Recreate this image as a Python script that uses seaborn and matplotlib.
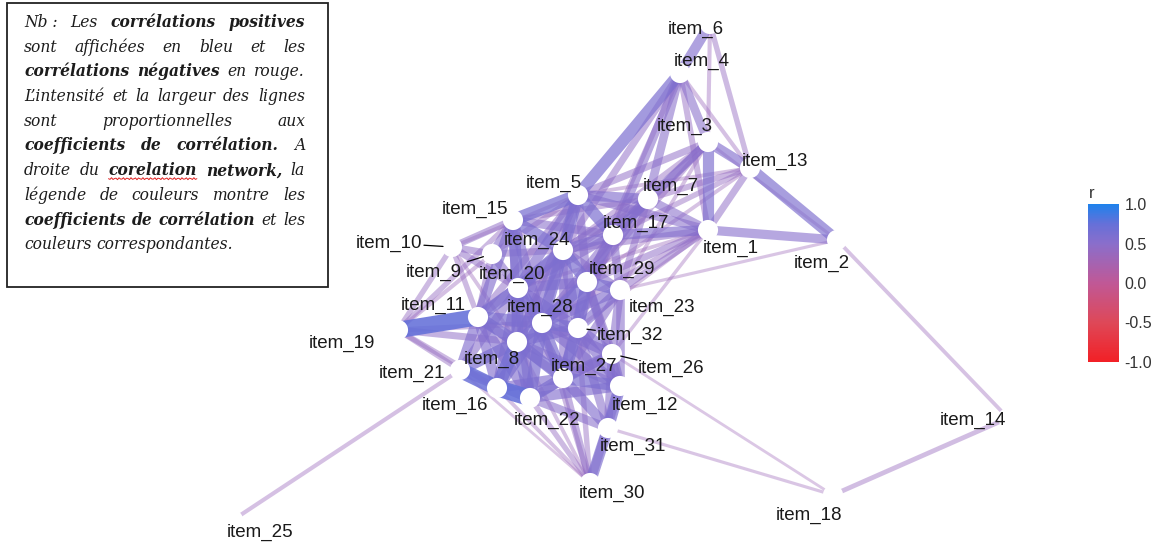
import numpy as np
import matplotlib
matplotlib.use("Agg")
import matplotlib.pyplot as plt
import seaborn as sns
from matplotlib.collections import LineCollection
from matplotlib.colors import LinearSegmentedColormap, Normalize
from matplotlib.cm import ScalarMappable
from matplotlib.patches import Rectangle

# node layout (multidimensional scaling coordinates, in image pixels)
items = ["item_%d" % i for i in range(1, 33)]
node_x = [708, 837, 708, 680, 578, 710, 648, 517, 492, 452, 478, 620, 750, 1008, 513, 497,
          613, 833, 398, 518, 460, 530, 620, 563, 233, 612, 563, 542, 587, 590, 608, 578]
node_y = [230, 240, 142, 73, 195, 24, 199, 342, 254, 247, 317, 386, 168, 418, 220, 388,
          235, 495, 330, 288, 370, 398, 290, 250, 520, 354, 378, 323, 282, 483, 428, 328]

# repelled label positions
label_x = [731, 822, 685, 702, 554, 696, 671, 492, 434, 389, 433, 645, 775, 973, 475, 455,
           636, 809, 342, 512, 412, 547, 662, 537, 260, 671, 584, 540, 622, 612, 633, 630]
label_y = [248, 263, 126, 61, 183, 29, 186, 359, 272, 243, 305, 405, 161, 420, 209, 405,
           223, 515, 343, 274, 373, 420, 307, 240, 532, 368, 366, 307, 269, 493, 446, 335]

# correlations shown (|r| >= 0.3)
edge_pairs = [
    (6, 4), (6, 3), (6, 13),
    (4, 3), (4, 5), (4, 7), (4, 17), (4, 1), (4, 13), (4, 24), (4, 29),
    (3, 13), (3, 1), (3, 7), (3, 17), (3, 5), (3, 24), (3, 29), (3, 23), (3, 2),
    (13, 2), (13, 1), (13, 7), (13, 17), (13, 5), (13, 29),
    (1, 2), (1, 7), (1, 17), (1, 5), (1, 24), (1, 29), (1, 23), (1, 28), (1, 32), (1, 26), (1, 20),
    (2, 23), (2, 14),
    (7, 5), (7, 17), (7, 24), (7, 29), (7, 23), (7, 15), (7, 20), (7, 28),
    (5, 15), (5, 24), (5, 17), (5, 20), (5, 29), (5, 28), (5, 9), (5, 10), (5, 11), (5, 8),
    (17, 24), (17, 29), (17, 23), (17, 15), (17, 20), (17, 28), (17, 32),
    (15, 24), (15, 20), (15, 9), (15, 10), (15, 11), (15, 28), (15, 8), (15, 19),
    (24, 20), (24, 29), (24, 28), (24, 32), (24, 23), (24, 8), (24, 11), (24, 27), (24, 9),
    (20, 28), (20, 11), (20, 8), (20, 9), (20, 10), (20, 29), (20, 32), (20, 27), (20, 21), (20, 16), (20, 22),
    (9, 10), (9, 11), (9, 19),
    (10, 11), (10, 19), (10, 8),
    (11, 19), (11, 28), (11, 8), (11, 21), (11, 16), (11, 22), (11, 27),
    (19, 21), (19, 8), (19, 16), (19, 28),
    (21, 16), (21, 8), (21, 25), (21, 22), (21, 30),
    (16, 22), (16, 8), (16, 27), (16, 28), (16, 30),
    (22, 27), (22, 8), (22, 28), (22, 12), (22, 31), (22, 30), (22, 26),
    (8, 28), (8, 27), (8, 32), (8, 12), (8, 30),
    (28, 29), (28, 32), (28, 27), (28, 23), (28, 26), (28, 12), (28, 30),
    (29, 23), (29, 32), (29, 27), (29, 26), (29, 12),
    (23, 32), (23, 26), (23, 12), (23, 27),
    (32, 27), (32, 26), (32, 12), (32, 31), (32, 30),
    (27, 26), (27, 12), (27, 31), (27, 30),
    (26, 12), (26, 31), (26, 18),
    (12, 31), (12, 30),
    (31, 30), (31, 18),
    (18, 14),
]
edge_r = [
    0.55, 0.36, 0.40,
    0.50, 0.60, 0.50, 0.50, 0.42, 0.36, 0.45, 0.40,
    0.55, 0.58, 0.50, 0.50, 0.45, 0.40, 0.40, 0.35, 0.33,
    0.58, 0.45, 0.42, 0.40, 0.35, 0.35,
    0.52, 0.50, 0.55, 0.50, 0.45, 0.45, 0.45, 0.40, 0.35, 0.34, 0.35,
    0.33, 0.35,
    0.55, 0.55, 0.50, 0.50, 0.45, 0.40, 0.40, 0.40,
    0.62, 0.60, 0.60, 0.55, 0.50, 0.50, 0.40, 0.35, 0.45, 0.45,
    0.55, 0.55, 0.50, 0.50, 0.50, 0.50, 0.45,
    0.60, 0.60, 0.50, 0.45, 0.55, 0.55, 0.50, 0.40,
    0.60, 0.60, 0.60, 0.55, 0.50, 0.55, 0.50, 0.50, 0.45,
    0.60, 0.60, 0.60, 0.50, 0.45, 0.55, 0.55, 0.55, 0.50, 0.55, 0.55,
    0.45, 0.45, 0.36,
    0.40, 0.40, 0.35,
    0.75, 0.60, 0.60, 0.55, 0.55, 0.55, 0.50,
    0.40, 0.45, 0.40, 0.40,
    0.72, 0.60, 0.36, 0.55, 0.32,
    0.75, 0.65, 0.55, 0.60, 0.35,
    0.60, 0.60, 0.60, 0.55, 0.50, 0.40, 0.50,
    0.60, 0.60, 0.55, 0.50, 0.35,
    0.60, 0.60, 0.60, 0.55, 0.55, 0.55, 0.40,
    0.60, 0.60, 0.55, 0.50, 0.50,
    0.55, 0.50, 0.50, 0.50,
    0.60, 0.55, 0.55, 0.50, 0.40,
    0.55, 0.60, 0.55, 0.45,
    0.55, 0.50, 0.32,
    0.60, 0.50,
    0.58, 0.33,
    0.38,
]

# leader segments drawn by the label repeller
leader_items = ["item_10", "item_9", "item_32", "item_26"]

note_lines = [
    [("Nb :", 0), ("Les", 0), ("corrélations", 1), ("positives", 1)],
    [("sont", 0), ("affichées", 0), ("en", 0), ("bleu", 0), ("et", 0), ("les", 0)],
    [("corrélations", 1), ("négatives", 1), ("en", 0), ("rouge.", 0)],
    [("L’intensité", 0), ("et", 0), ("la", 0), ("largeur", 0), ("des", 0), ("lignes", 0)],
    [("sont", 0), ("proportionnelles", 0), ("aux", 0)],
    [("coefficients", 1), ("de", 1), ("corrélation.", 1), ("A", 0)],
    [("droite", 0), ("du", 0), ("corelation", 1), ("network,", 1), ("la", 0)],
    [("légende", 0), ("de", 0), ("couleurs", 0), ("montre", 0), ("les", 0)],
    [("coefficients", 1), ("de", 1), ("corrélation", 1), ("et", 0), ("les", 0)],
    [("couleurs", 0), ("correspondantes.", 0)],
]

sns.set_theme(style="white")
plt.rcParams['font.family'] = ['Liberation Sans', 'DejaVu Sans']

W, H = 1163, 544
fig = plt.figure(figsize=(W / 100, H / 100), dpi=100)
ax = fig.add_axes([0, 0, 1, 1])

cmap = LinearSegmentedColormap.from_list(
    "r", [(0.0, "#f22026"), (0.25, "#de4858"), (0.5, "#c05896"),
          (0.75, "#8a6ecb"), (0.875, "#6670d8"), (1.0, "#1e82ec")])
norm = Normalize(-1, 1)

pos = {i + 1: (node_x[i], node_y[i]) for i in range(len(items))}
order = np.argsort(np.abs(edge_r))
segs, cols, lws = [], [], []
for k in order:
    a, b = edge_pairs[k]
    r = abs(edge_r[k])
    segs.append([pos[a], pos[b]])
    c = list(cmap(norm(edge_r[k])))
    c[3] = float(np.clip(0.40 + 1.2 * (r - 0.35), 0.3, 0.92))
    cols.append(c)
    lws.append(max(2.0, 3.8 + 32 * (r - 0.35)) * 0.72)
ax.add_collection(LineCollection(segs, colors=cols, linewidths=lws,
                                 capstyle="butt", zorder=1))

sns.scatterplot(x=node_x, y=node_y, s=210, color="white", edgecolor="none",
                legend=False, ax=ax, zorder=2)

for name, lx, ly in zip(items, label_x, label_y):
    ax.text(lx, ly, name, ha="center", va="center", fontsize=13.5,
            color="#1a1a1a", zorder=4)

for name in leader_items:
    i = items.index(name)
    lx, ly, nx, ny = label_x[i], label_y[i], node_x[i], node_y[i]
    d = np.array([nx - lx, ny - ly], dtype=float)
    L = np.hypot(*d)
    d /= L
    start = np.array([lx, ly]) + d * (L - 10 - min(22, L - 45))
    end = np.array([nx, ny]) - d * 9
    ax.plot([start[0], end[0]], [start[1], end[1]], color="black", lw=0.9, zorder=4)

ax.set_xlim(0, W)
ax.set_ylim(H, 0)
ax.axis("off")

# note box
ax.add_patch(Rectangle((7, 3), 321, 284, fill=False, edgecolor="#222222",
                       lw=1.3, zorder=5))
renderer = fig.canvas.get_renderer()
left, right = 24, 305
fs = 11.2
base = 27
for li, line in enumerate(note_lines):
    y = base + 24.7 * li
    texts = []
    for word, bold in line:
        t = ax.text(0, y, word, fontsize=fs, family="DejaVu Serif", style="italic",
                    weight="bold" if bold else "normal", color="#1c1c1c",
                    va="baseline", ha="left", zorder=6)
        texts.append(t)
    widths = [t.get_window_extent(renderer).width for t in texts]
    if li == len(note_lines) - 1:
        gap = 5
    else:
        gap = (right - left - sum(widths)) / (len(texts) - 1)
    x = left
    for t, w, (word, bold) in zip(texts, widths, line):
        t.set_x(x)
        if word == "corelation":
            xs = np.linspace(x, x + w, 60)
            ax.plot(xs, y + 3.5 + 1.0 * np.sin((xs - x) * 1.6), color="#e02020",
                    lw=0.7, zorder=6)
        x += w + gap

# colour legend
cax = fig.add_axes([1088 / W, (H - 362) / H, 31 / W, 158 / H])
cb = fig.colorbar(ScalarMappable(norm=norm, cmap=cmap), cax=cax)
cb.outline.set_visible(False)
cb.set_ticks([-1, -0.5, 0, 0.5, 1])
cb.set_ticklabels(["-1.0", "-0.5", "0.0", "0.5", "1.0"])
cax.tick_params(axis="y", direction="in", colors="white", length=5, width=1,
                left=True, right=True, labelleft=False, labelright=True,
                labelcolor="#333333", labelsize=11.5, pad=4)
ax.text(1089, 193, "r", fontsize=12, color="#333333", ha="left", va="center")

fig.savefig("out.png", dpi=100)
